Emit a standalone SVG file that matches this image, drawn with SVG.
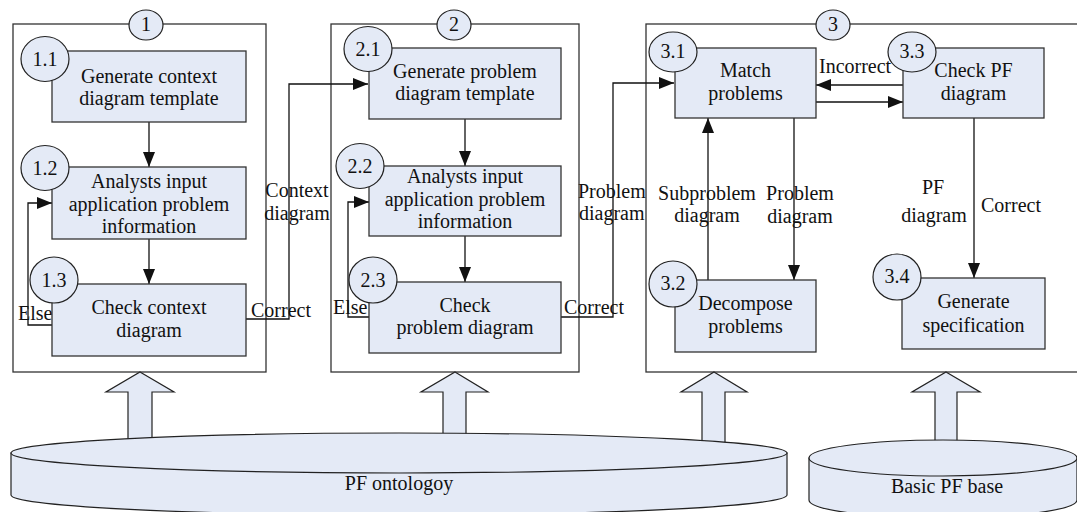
<svg xmlns="http://www.w3.org/2000/svg" width="1077" height="512" viewBox="0 0 1077 512" font-family="'Liberation Serif', 'DejaVu Serif', serif">
  <style>
    .frame { fill: none; stroke: #333; stroke-width: 1.3; }
    .box { fill: #e4eaf6; stroke: #333; stroke-width: 1.3; }
    .badge { fill: #e4eaf6; stroke: #222; stroke-width: 1.2; }
    .flow { fill: none; stroke: #111; stroke-width: 1.3; }
    .block { fill: #e4eaf6; stroke: #222; stroke-width: 1.2; }
    text { font-family: 'Liberation Serif', 'DejaVu Serif', serif; font-size: 20px; fill: #111; }
    .c { text-anchor: middle; }
  </style>
  <defs>
    <marker id="arrow" markerUnits="userSpaceOnUse" markerWidth="16" markerHeight="12" refX="15" refY="6" orient="auto">
      <path d="M0,0 L15,6 L0,12 Z" fill="#111"/>
    </marker>
  </defs>

  <rect width="1077" height="512" fill="#fff"/>

  <!-- stage frames -->
  <g id="stage1">
    <rect class="frame" x="13" y="24" width="253" height="348"/>
    <ellipse class="badge" cx="146" cy="25" rx="17" ry="15"/>
    <text class="c" x="146" y="31">1</text>
  </g>
  <g id="stage2">
    <rect class="frame" x="331" y="24" width="248" height="348"/>
    <ellipse class="badge" cx="454" cy="25" rx="17" ry="15"/>
    <text class="c" x="454" y="31">2</text>
  </g>
  <g id="stage3">
    <rect class="frame" x="646" y="24" width="450" height="348"/>
    <ellipse class="badge" cx="833" cy="25" rx="17" ry="15"/>
    <text class="c" x="833" y="31">3</text>
  </g>

  <!-- connectors -->
  <g id="connectors">
    <path class="flow" d="M149,122 V167" marker-end="url(#arrow)"/>
    <path class="flow" d="M149,239 V284" marker-end="url(#arrow)"/>
    <path class="flow" d="M52,325 H28 V203 H52" marker-end="url(#arrow)"/>
    <path class="flow" d="M246,319 H289 V84 H368" marker-end="url(#arrow)"/>
    <path class="flow" d="M465,119 V166" marker-end="url(#arrow)"/>
    <path class="flow" d="M465,236 V282" marker-end="url(#arrow)"/>
    <path class="flow" d="M369,317 H348 V202 H369" marker-end="url(#arrow)"/>
    <path class="flow" d="M561,317 H613 V83 H674" marker-end="url(#arrow)"/>
    <path class="flow" d="M903,85 H816" marker-end="url(#arrow)"/>
    <path class="flow" d="M816,102 H903" marker-end="url(#arrow)"/>
    <path class="flow" d="M708,280 V118" marker-end="url(#arrow)"/>
    <path class="flow" d="M794,118 V280" marker-end="url(#arrow)"/>
    <path class="flow" d="M974,118 V278" marker-end="url(#arrow)"/>

    <text class="c" x="297" y="197">Context</text>
    <text class="c" x="297" y="220">diagram</text>
    <text x="251" y="317">Correct</text>
    <text x="18" y="320">Else</text>
    <text x="578" y="198">Problem</text>
    <text x="579" y="220">diagram</text>
    <text x="333" y="314">Else</text>
    <text x="564" y="314">Correct</text>
    <text x="819" y="73">Incorrect</text>
    <text class="c" x="707" y="200">Subproblem</text>
    <text class="c" x="707" y="222">diagram</text>
    <text class="c" x="800" y="200">Problem</text>
    <text class="c" x="800" y="223">diagram</text>
    <text class="c" x="933" y="194">PF</text>
    <text class="c" x="934" y="222">diagram</text>
    <text x="981" y="212">Correct</text>
  </g>

  <!-- process nodes -->
  <g id="n1-1">
    <rect class="box" x="52" y="51" width="194" height="71"/>
    <text class="c" x="149" y="83">Generate context</text>
    <text class="c" x="149" y="105">diagram template</text>
    <ellipse class="badge" cx="45" cy="59" rx="24" ry="22.5"/>
    <text class="c" x="45" y="66">1.1</text>
  </g>
  <g id="n1-2">
    <rect class="box" x="52" y="167" width="194" height="72"/>
    <text class="c" x="149" y="188">Analysts input</text>
    <text class="c" x="149" y="211">application problem</text>
    <text class="c" x="149" y="233">information</text>
    <ellipse class="badge" cx="45" cy="168" rx="24" ry="22.5"/>
    <text class="c" x="45" y="175">1.2</text>
  </g>
  <g id="n1-3">
    <rect class="box" x="52" y="284" width="194" height="72"/>
    <text class="c" x="149" y="314">Check context</text>
    <text class="c" x="149" y="337">diagram</text>
    <ellipse class="badge" cx="54" cy="280" rx="24" ry="23"/>
    <text class="c" x="54" y="287">1.3</text>
  </g>

  <g id="n2-1">
    <rect class="box" x="369" y="48" width="192" height="71"/>
    <text class="c" x="465" y="78">Generate problem</text>
    <text class="c" x="465" y="100">diagram template</text>
    <ellipse class="badge" cx="368" cy="49" rx="24" ry="22.5"/>
    <text class="c" x="368" y="56">2.1</text>
  </g>
  <g id="n2-2">
    <rect class="box" x="369" y="166" width="192" height="70"/>
    <text class="c" x="465" y="183">Analysts input</text>
    <text class="c" x="465" y="206">application problem</text>
    <text class="c" x="465" y="228">information</text>
    <ellipse class="badge" cx="360" cy="166" rx="24" ry="22.5"/>
    <text class="c" x="360" y="173">2.2</text>
  </g>
  <g id="n2-3">
    <rect class="box" x="369" y="282" width="192" height="71"/>
    <text class="c" x="465" y="312">Check</text>
    <text class="c" x="465" y="334">problem diagram</text>
    <ellipse class="badge" cx="373" cy="280" rx="24" ry="23"/>
    <text class="c" x="373" y="287">2.3</text>
  </g>

  <g id="n3-1">
    <rect class="box" x="675" y="48" width="141" height="70"/>
    <text class="c" x="745.5" y="77">Match</text>
    <text class="c" x="745.5" y="100">problems</text>
    <ellipse class="badge" cx="673" cy="52" rx="24" ry="20"/>
    <text class="c" x="673" y="58">3.1</text>
  </g>
  <g id="n3-2">
    <rect class="box" x="675" y="280" width="141" height="72"/>
    <text class="c" x="745.5" y="310">Decompose</text>
    <text class="c" x="745.5" y="333">problems</text>
    <ellipse class="badge" cx="673" cy="284" rx="24" ry="23"/>
    <text class="c" x="673" y="290">3.2</text>
  </g>
  <g id="n3-3">
    <rect class="box" x="903" y="48" width="141" height="70"/>
    <text class="c" x="973.5" y="77">Check PF</text>
    <text class="c" x="973.5" y="100">diagram</text>
    <ellipse class="badge" cx="912" cy="52" rx="24" ry="20"/>
    <text class="c" x="912" y="58">3.3</text>
  </g>
  <g id="n3-4">
    <rect class="box" x="902" y="278" width="143" height="71"/>
    <text class="c" x="973.5" y="308">Generate</text>
    <text class="c" x="973.5" y="332">specification</text>
    <ellipse class="badge" cx="897" cy="277" rx="24" ry="23"/>
    <text class="c" x="897" y="283">3.4</text>
  </g>

  <!-- supply arrows from the knowledge bases -->
  <g id="supply">
    <polygon class="block" points="140,372 174,392 152,392 152,446 128,446 128,392 106,392"/>
    <polygon class="block" points="455,372 488,392 466,392 466,446 443,446 443,392 421,392"/>
    <polygon class="block" points="714,372 747,392 725,392 725,446 702,446 702,392 681,392"/>
    <polygon class="block" points="946,372 980,392 957,392 957,446 935,446 935,392 912,392"/>
  </g>

  <g id="pf-ontology">
    <path class="block" d="M11,453 V495 A388,20 0 0 0 787,495 V453 Z"/>
    <ellipse class="block" cx="399" cy="453" rx="388" ry="20"/>
    <text class="c" x="399" y="490">PF ontologoy</text>
  </g>
  <g id="basic-pf-base">
    <path class="block" d="M809,458 V500 A134,18 0 0 0 1077,500 V458 Z"/>
    <ellipse class="block" cx="943" cy="458" rx="134" ry="18"/>
    <text class="c" x="947" y="493">Basic PF base</text>
  </g>
</svg>
